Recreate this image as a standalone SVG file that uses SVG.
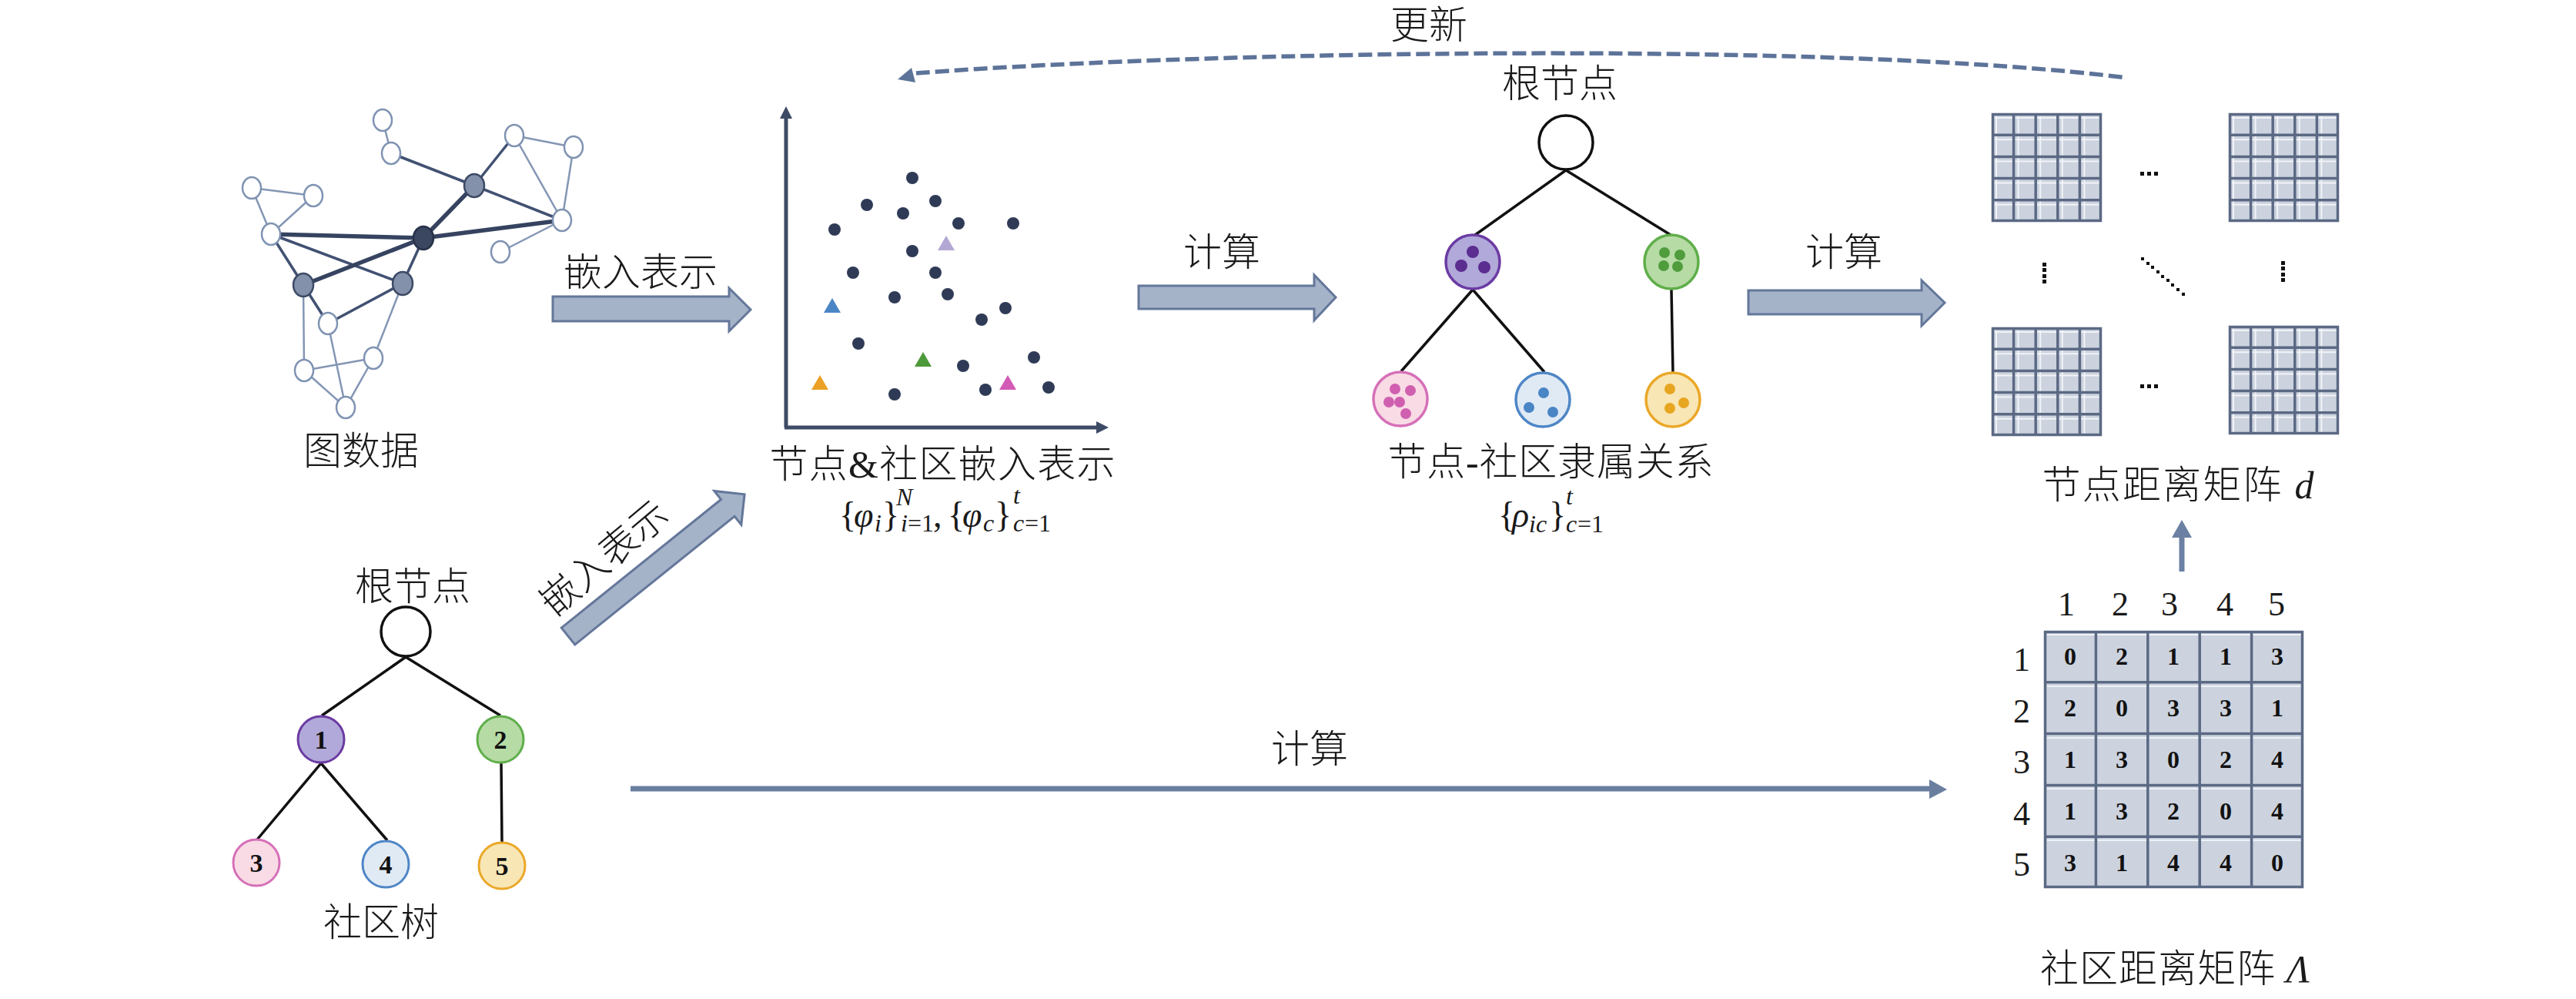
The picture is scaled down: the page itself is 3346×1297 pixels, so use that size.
<svg xmlns="http://www.w3.org/2000/svg" xmlns:xlink="http://www.w3.org/1999/xlink" width="3346" height="1297" viewBox="0 0 3346 1297">
<style>
.lbl{font-family:"Liberation Serif","Noto Sans CJK SC",serif;font-size:50px;font-weight:300;fill:#1a1a1a;text-anchor:middle}
.math{font-family:"Liberation Serif",serif;fill:#1a1a1a}
.it{font-style:italic}
.gl{stroke:#8496b4;stroke-width:2.5;fill:none}
.gm{stroke:#415172;stroke-width:3.5;fill:none}
.gt{stroke:#364360;stroke-width:5.5;fill:none}
.on{fill:#ffffff;stroke:#7f93b2;stroke-width:2.5}
.fn{fill:#8391aa;stroke:#3d4a66;stroke-width:2.5}
.dn{fill:#3b4660;stroke:#27314a;stroke-width:2.5}
.blk{fill:#a5b3c8;stroke:#64779a;stroke-width:3;stroke-linejoin:miter}
.dot{fill:#2f3b56}
.tl{stroke:#111;stroke-width:3.5;fill:none}
.num{font-family:"Liberation Serif",serif;font-weight:bold;fill:#111;text-anchor:middle}
.hdr{font-family:"Liberation Serif",serif;font-size:44px;fill:#1a1a1a;text-anchor:middle}
.sq{fill:#111}
</style>
<defs>
<g id="mat">
<rect x="0" y="0" width="143" height="141" fill="#ccd3df"/>
<g stroke="#f1f3f7" stroke-width="2">
<path d="M4 6H141M4 34.2H141M4 62.4H141M4 90.6H141M4 118.8H141"/>
<path d="M6 4V139M34.6 4V139M63.2 4V139M91.8 4V139M120.4 4V139"/>
</g>
<g stroke="#5b6984" stroke-width="3.5" fill="none">
<rect x="1.5" y="1.5" width="140" height="138"/>
<path d="M0 28.2H143M0 56.4H143M0 84.6H143M0 112.8H143"/>
<path d="M28.6 0V141M57.2 0V141M85.8 0V141M114.4 0V141"/>
</g>
</g>
</defs>
<rect width="3346" height="1297" fill="#ffffff"/>

<!-- connectors -->
<g id="connectors">
<path d="M1190 95 C1600 64 2400 55 2762 101" fill="none" stroke="#5d7399" stroke-width="5.5" stroke-dasharray="18 7"/>
<polygon points="1166,103 1184,88 1189,107" fill="#5d7399"/>
<polygon class="blk" points="718,385 947,385 947,374 975,402 947,430 947,417 718,417"/>
<polygon class="blk" points="1479,371 1707,371 1707,357 1735,386 1707,416 1707,401 1479,401"/>
<polygon class="blk" points="2271,377 2496,377 2496,364 2526,393 2496,423 2496,408 2271,408"/>
<polygon class="blk" transform="translate(738,826) rotate(-38.8)" points="0,-14 266,-14 266,-28 294,0 266,28 266,14 0,14"/>
<line x1="819" y1="1024" x2="2508" y2="1024" stroke="#6a7f9f" stroke-width="7"/>
<polygon points="2506,1012 2529,1025 2506,1037" fill="#6a7f9f"/>
<line x1="2834" y1="742" x2="2834" y2="695" stroke="#6b80a2" stroke-width="7"/>
<polygon points="2821,698 2834,675 2847,698" fill="#6b80a2"/>
</g>

<g id="labels-arrows">
<text class="lbl" x="832" y="371">嵌入表示</text>
<text class="lbl" x="1587" y="345">计算</text>
<text class="lbl" x="2395" y="345">计算</text>
<text class="lbl" x="1701" y="990">计算</text>
<text class="lbl" x="1856" y="50">更新</text>
<text class="lbl" transform="translate(796,738) rotate(-40)" x="0" y="0">嵌入表示</text>
</g>

<!-- graph data -->
<g id="graph-data">
<g class="gl">
<line x1="497" y1="156" x2="508" y2="199"/>
<line x1="668" y1="176" x2="745" y2="191"/>
<line x1="668" y1="176" x2="730" y2="286"/>
<line x1="745" y1="191" x2="730" y2="286"/>
<line x1="730" y1="286" x2="650" y2="327"/>
<line x1="327" y1="244" x2="407" y2="254"/>
<line x1="327" y1="244" x2="352" y2="304"/>
<line x1="407" y1="254" x2="352" y2="304"/>
<line x1="394" y1="370" x2="395" y2="481"/>
<line x1="426" y1="420" x2="449" y2="529"/>
<line x1="395" y1="481" x2="485" y2="465"/>
<line x1="395" y1="481" x2="449" y2="529"/>
<line x1="485" y1="465" x2="449" y2="529"/>
<line x1="523" y1="368" x2="485" y2="465"/>
</g>
<g class="gm">
<line x1="508" y1="199" x2="616" y2="241"/>
<line x1="668" y1="176" x2="616" y2="241"/>
<line x1="616" y1="241" x2="730" y2="286"/>
<line x1="352" y1="304" x2="394" y2="370"/>
<line x1="352" y1="304" x2="523" y2="368"/>
<line x1="550" y1="309" x2="523" y2="368"/>
<line x1="394" y1="370" x2="426" y2="420"/>
<line x1="523" y1="368" x2="426" y2="420"/>
</g>
<g class="gt">
<line x1="616" y1="241" x2="550" y2="309"/>
<line x1="730" y1="286" x2="550" y2="309"/>
<line x1="352" y1="304" x2="550" y2="309"/>
<line x1="394" y1="370" x2="550" y2="309"/>
</g>
<ellipse class="on" cx="497" cy="156" rx="12" ry="14"/>
<ellipse class="on" cx="508" cy="199" rx="12" ry="14"/>
<ellipse class="on" cx="668" cy="176" rx="12" ry="14"/>
<ellipse class="on" cx="745" cy="191" rx="12" ry="14"/>
<ellipse class="fn" cx="616" cy="241" rx="13" ry="15"/>
<ellipse class="on" cx="327" cy="244" rx="12" ry="14"/>
<ellipse class="on" cx="407" cy="254" rx="12" ry="14"/>
<ellipse class="on" cx="730" cy="286" rx="12" ry="14"/>
<ellipse class="on" cx="352" cy="304" rx="12" ry="14"/>
<ellipse class="dn" cx="550" cy="309" rx="13" ry="15"/>
<ellipse class="on" cx="650" cy="327" rx="12" ry="14"/>
<ellipse class="fn" cx="394" cy="370" rx="13" ry="15"/>
<ellipse class="fn" cx="523" cy="368" rx="13" ry="15"/>
<ellipse class="on" cx="426" cy="420" rx="12" ry="14"/>
<ellipse class="on" cx="485" cy="465" rx="12" ry="14"/>
<ellipse class="on" cx="395" cy="481" rx="12" ry="14"/>
<ellipse class="on" cx="449" cy="529" rx="12" ry="14"/>
<text class="lbl" x="469" y="603">图数据</text>
</g>

<!-- embedding scatter -->
<g id="embedding">
<line x1="1021" y1="555" x2="1021" y2="150" stroke="#3d4b66" stroke-width="5"/>
<polygon points="1013,154 1021,138 1029,154" fill="#3d4b66"/>
<line x1="1019" y1="555" x2="1428" y2="555" stroke="#3d4b66" stroke-width="5"/>
<polygon points="1424,547 1440,555 1424,563" fill="#3d4b66"/>
<g class="dot">
<circle cx="1185" cy="231" r="8"/>
<circle cx="1126" cy="266" r="8"/>
<circle cx="1173" cy="277" r="8"/>
<circle cx="1215" cy="261" r="8"/>
<circle cx="1084" cy="298" r="8"/>
<circle cx="1245" cy="290" r="8"/>
<circle cx="1316" cy="290" r="8"/>
<circle cx="1185" cy="326" r="8"/>
<circle cx="1108" cy="354" r="8"/>
<circle cx="1215" cy="354" r="8"/>
<circle cx="1231" cy="382" r="8"/>
<circle cx="1162" cy="386" r="8"/>
<circle cx="1306" cy="400" r="8"/>
<circle cx="1275" cy="415" r="8"/>
<circle cx="1115" cy="446" r="8"/>
<circle cx="1251" cy="475" r="8"/>
<circle cx="1343" cy="464" r="8"/>
<circle cx="1162" cy="512" r="8"/>
<circle cx="1280" cy="506" r="8"/>
<circle cx="1362" cy="503" r="8"/>
</g>
<polygon points="1229,306 1218,325 1240,325" fill="#b3a7d3"/>
<polygon points="1081,387 1070,406 1092,406" fill="#4a86c5"/>
<polygon points="1199,457 1188,476 1210,476" fill="#4c9a3a"/>
<polygon points="1065,487 1054,506 1076,506" fill="#eba126"/>
<polygon points="1309,487 1298,506 1320,506" fill="#d35bb5"/>
<text class="lbl" x="1224" y="620" textLength="449" lengthAdjust="spacing">节点&amp;社区嵌入表示</text>
<text class="math" font-size="46">
<tspan x="1090" y="684">{</tspan><tspan class="it" x="1109" y="684">φ</tspan><tspan class="it" x="1136" y="690" font-size="32">i</tspan><tspan x="1146" y="684">}</tspan><tspan class="it" x="1164" y="656" font-size="32">N</tspan><tspan class="it" x="1170" y="690" font-size="32">i</tspan><tspan x="1179" y="690" font-size="32">=1</tspan><tspan x="1212" y="684">,</tspan><tspan x="1231" y="684">{</tspan><tspan class="it" x="1250" y="684">φ</tspan><tspan class="it" x="1277" y="690" font-size="32">c</tspan><tspan x="1292" y="684">}</tspan><tspan class="it" x="1316" y="654" font-size="32">t</tspan><tspan class="it" x="1316" y="690" font-size="32">c</tspan><tspan x="1331" y="690" font-size="32">=1</tspan>
</text>
</g>

<!-- membership tree -->
<g id="membership">
<g class="tl">
<line x1="2034" y1="221" x2="1916" y2="305"/>
<line x1="2034" y1="221" x2="2170" y2="305"/>
<line x1="1913" y1="376" x2="1820" y2="482"/>
<line x1="1913" y1="376" x2="2006" y2="483"/>
<line x1="2171" y1="376" x2="2173" y2="484"/>
</g>
<circle cx="2034" cy="185" r="35" fill="#fff" stroke="#111" stroke-width="3.5"/>
<circle cx="1913" cy="340" r="35" fill="#b1a9d9" stroke="#6b3ba3" stroke-width="3.5"/>
<g fill="#5b2d90"><circle cx="1913" cy="327" r="8"/><circle cx="1898" cy="345" r="8"/><circle cx="1928" cy="347" r="8"/></g>
<circle cx="2171" cy="340" r="35" fill="#b6dba5" stroke="#5fae4a" stroke-width="3.5"/>
<g fill="#4f9c3d"><circle cx="2162" cy="328" r="7"/><circle cx="2182" cy="331" r="7"/><circle cx="2161" cy="345" r="7"/><circle cx="2179" cy="346" r="7"/></g>
<circle cx="1819" cy="518" r="35" fill="#f9dbe5" stroke="#d670b8" stroke-width="3.5"/>
<g fill="#d05fb0"><circle cx="1812" cy="505" r="7"/><circle cx="1832" cy="507" r="7"/><circle cx="1804" cy="522" r="7"/><circle cx="1818" cy="522" r="7"/><circle cx="1826" cy="537" r="7"/></g>
<circle cx="2004" cy="519" r="35" fill="#e0eaf5" stroke="#4f86c6" stroke-width="3.5"/>
<g fill="#4a85c5"><circle cx="2005" cy="510" r="7"/><circle cx="1986" cy="529" r="7"/><circle cx="2017" cy="535" r="7"/></g>
<circle cx="2173" cy="519" r="35" fill="#f8e6b5" stroke="#eaa828" stroke-width="3.5"/>
<g fill="#e8a520"><circle cx="2169" cy="505" r="7"/><circle cx="2187" cy="523" r="7"/><circle cx="2169" cy="530" r="7"/></g>
<text class="lbl" x="2026" y="126">根节点</text>
<text class="lbl" x="2014" y="617" textLength="423" lengthAdjust="spacing">节点-社区隶属关系</text>
<text class="math" font-size="46">
<tspan x="1946" y="684">{</tspan><tspan class="it" x="1964" y="684">ρ</tspan><tspan class="it" x="1986" y="691" font-size="32">ic</tspan><tspan x="2012" y="684">}</tspan><tspan class="it" x="2034" y="655" font-size="32">t</tspan><tspan class="it" x="2034" y="691" font-size="32">c</tspan><tspan x="2049" y="691" font-size="32">=1</tspan>
</text>
</g>

<!-- node distance matrices -->
<g id="node-distance">
<use xlink:href="#mat" x="2587" y="147"/>
<use xlink:href="#mat" x="2895" y="147"/>
<use xlink:href="#mat" x="2587" y="425"/>
<use xlink:href="#mat" x="2895" y="423"/>
<g class="sq">
<rect x="2780" y="223" width="5" height="5"/><rect x="2789" y="223" width="5" height="5"/><rect x="2798" y="223" width="5" height="5"/>
<rect x="2780" y="499" width="5" height="5"/><rect x="2789" y="499" width="5" height="5"/><rect x="2798" y="499" width="5" height="5"/>
<rect x="2653" y="341" width="5" height="5"/><rect x="2653" y="348" width="5" height="5"/><rect x="2653" y="356" width="5" height="5"/><rect x="2653" y="363" width="5" height="5"/>
<rect x="2963" y="339" width="5" height="5"/><rect x="2963" y="346" width="5" height="5"/><rect x="2963" y="354" width="5" height="5"/><rect x="2963" y="361" width="5" height="5"/>
<rect x="2781" y="334" width="4" height="4"/><rect x="2788" y="340" width="4" height="4"/><rect x="2794" y="345" width="4" height="4"/><rect x="2801" y="351" width="4" height="4"/><rect x="2807" y="357" width="4" height="4"/><rect x="2814" y="362" width="4" height="4"/><rect x="2820" y="368" width="4" height="4"/><rect x="2827" y="374" width="4" height="4"/><rect x="2834" y="380" width="4" height="4"/>
</g>
<text class="lbl" x="2829" y="647" textLength="353" lengthAdjust="spacing">节点距离矩阵 <tspan class="it" font-family="Liberation Serif" font-weight="400">d</tspan></text>
</g>

<!-- community tree -->
<g id="community-tree">
<g class="tl">
<line x1="527" y1="853" x2="418" y2="929"/>
<line x1="527" y1="853" x2="650" y2="929"/>
<line x1="417" y1="991" x2="334" y2="1090"/>
<line x1="417" y1="991" x2="503" y2="1091"/>
<line x1="651" y1="991" x2="652" y2="1093"/>
</g>
<circle cx="527" cy="820" r="32" fill="#fff" stroke="#111" stroke-width="3.5"/>
<circle cx="417" cy="960" r="30" fill="#b1a9d9" stroke="#6b3ba3" stroke-width="3"/>
<circle cx="650" cy="960" r="30" fill="#b6dba5" stroke="#5fae4a" stroke-width="3"/>
<circle cx="333" cy="1120" r="30" fill="#f9dbe5" stroke="#d670b8" stroke-width="3"/>
<circle cx="501" cy="1122" r="30" fill="#e0eaf5" stroke="#4f86c6" stroke-width="3"/>
<circle cx="652" cy="1124" r="30" fill="#f8e6b5" stroke="#eaa828" stroke-width="3"/>
<g class="num" font-size="34">
<text x="417" y="972">1</text>
<text x="650" y="972">2</text>
<text x="333" y="1132">3</text>
<text x="501" y="1134">4</text>
<text x="652" y="1136">5</text>
</g>
<text class="lbl" x="536" y="779">根节点</text>
<text class="lbl" x="495" y="1215">社区树</text>
</g>

<!-- community distance matrix -->
<g id="community-distance">
<rect x="2655" y="819" width="337" height="334" fill="#ccd3df"/>
<g stroke="#eef1f6" stroke-width="2">
<path d="M2659 824H2989M2659 891H2989M2659 958H2989M2659 1024H2989M2659 1091H2989"/>
</g>
<g stroke="#5b6984" stroke-width="3.5" fill="none">
<rect x="2656.5" y="820.5" width="334" height="331"/>
<path d="M2655 885.8H2992M2655 952.6H2992M2655 1019.4H2992M2655 1086.2H2992"/>
<path d="M2722.4 819V1153M2789.8 819V1153M2857.2 819V1153M2924.6 819V1153"/>
</g>
<g class="num" font-size="32">
<text x="2689" y="863">0</text><text x="2756" y="863">2</text><text x="2823" y="863">1</text><text x="2891" y="863">1</text><text x="2958" y="863">3</text>
<text x="2689" y="930">2</text><text x="2756" y="930">0</text><text x="2823" y="930">3</text><text x="2891" y="930">3</text><text x="2958" y="930">1</text>
<text x="2689" y="997">1</text><text x="2756" y="997">3</text><text x="2823" y="997">0</text><text x="2891" y="997">2</text><text x="2958" y="997">4</text>
<text x="2689" y="1064">1</text><text x="2756" y="1064">3</text><text x="2823" y="1064">2</text><text x="2891" y="1064">0</text><text x="2958" y="1064">4</text>
<text x="2689" y="1131">3</text><text x="2756" y="1131">1</text><text x="2823" y="1131">4</text><text x="2891" y="1131">4</text><text x="2958" y="1131">0</text>
</g>
<g class="hdr">
<text x="2684" y="799">1</text><text x="2754" y="799">2</text><text x="2818" y="799">3</text><text x="2890" y="799">4</text><text x="2957" y="799">5</text>
<text x="2626" y="871">1</text><text x="2626" y="938">2</text><text x="2626" y="1004">3</text><text x="2626" y="1071">4</text><text x="2626" y="1137">5</text>
</g>
<text class="lbl" x="2825" y="1275" textLength="350" lengthAdjust="spacing">社区距离矩阵 <tspan class="it" font-family="Liberation Serif" font-weight="400">Λ</tspan></text>
</g>
</svg>
